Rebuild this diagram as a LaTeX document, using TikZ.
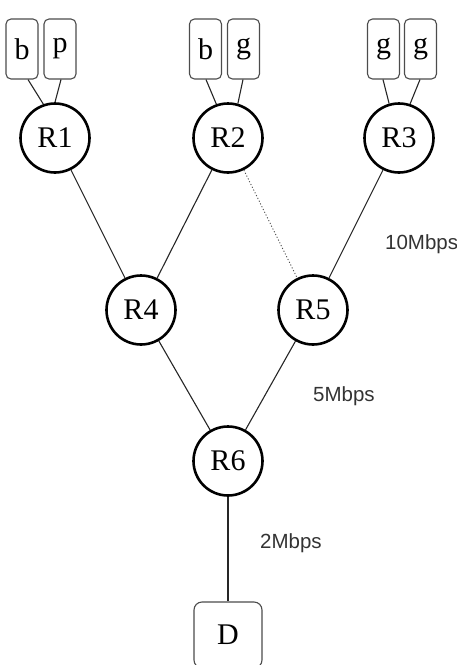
\documentclass[tikz,border=0pt]{standalone}
\usepackage{fontspec}
\setmainfont{Liberation Serif}
\newfontfamily\labelfont{Liberation Sans}
\begin{document}
\begin{tikzpicture}[x=1pt,y=-1pt,
  router/.style={circle,draw=black,line width=2.6pt,minimum size=69pt,inner sep=0pt,font=\fontsize{30}{32}\selectfont},
  host/.style={rectangle,rounded corners=5pt,draw=black!70,line width=1.1pt,minimum width=32pt,minimum height=60pt,inner sep=0pt,font=\fontsize{30}{32}\selectfont},
  dest/.style={rectangle,rounded corners=8pt,draw=black!70,line width=1.1pt,minimum width=68pt,minimum height=66pt,inner sep=0pt,font=\fontsize{30}{32}\selectfont},
  link/.style={draw=black!85,line width=1.1pt},
  rate/.style={font=\labelfont\fontsize{20.5}{22}\selectfont,text=black!80,anchor=west,inner sep=0pt}]
\useasboundingbox (0,0) rectangle (456,665);
\clip (0,0) rectangle (456,665);
% hosts
\node[host] (h1) at (22,49) {b};
\node[host] (h2) at (60,49) {p};
\node[host] (h3) at (205.5,49) {b};
\node[host] (h4) at (243.5,49) {g};
\node[host] (h5) at (383.5,49) {g};
\node[host] (h6) at (420.5,49) {g};
% routers
\node[router] (R1) at (55,138) {R1};
\node[router] (R2) at (228,138) {R2};
\node[router] (R3) at (399,138) {R3};
\node[router] (R4) at (141,310) {R4};
\node[router] (R5) at (313,310) {R5};
\node[router] (R6) at (228,461) {R6};
\node[dest] (D) at (228,635) {D};
% host links
\draw[link] ([xshift=6pt]h1.south) -- (R1.109);
\draw[link] ([xshift=1pt]h2.south) -- (R1.90);
\draw[link] ([xshift=0.5pt]h3.south) -- (R2.109);
\draw[link] ([xshift=-0.5pt]h4.south) -- (R2.74);
\draw[link] ([xshift=-0.5pt]h5.south) -- (R3.106);
\draw[link] ([xshift=-0.5pt]h6.south) -- (R3.72);
% router links
\draw[link] (R1) -- (R4);
\draw[link] (R2) -- (R4);
\draw[link,dotted,line width=0.9pt,draw=black!70] (R2) -- (R5);
\draw[link] (R3) -- (R5);
\draw[link] (R4) -- (R6);
\draw[link] (R5) -- (R6);
\draw[link] (R6) -- (D);
% labels
\node[rate] (l10) at (385,244) {10Mbps};
\node[rate] (l5) at (313,396) {5Mbps};
\node[rate] (l2) at (260,543) {2Mbps};
\end{tikzpicture}
\end{document}
